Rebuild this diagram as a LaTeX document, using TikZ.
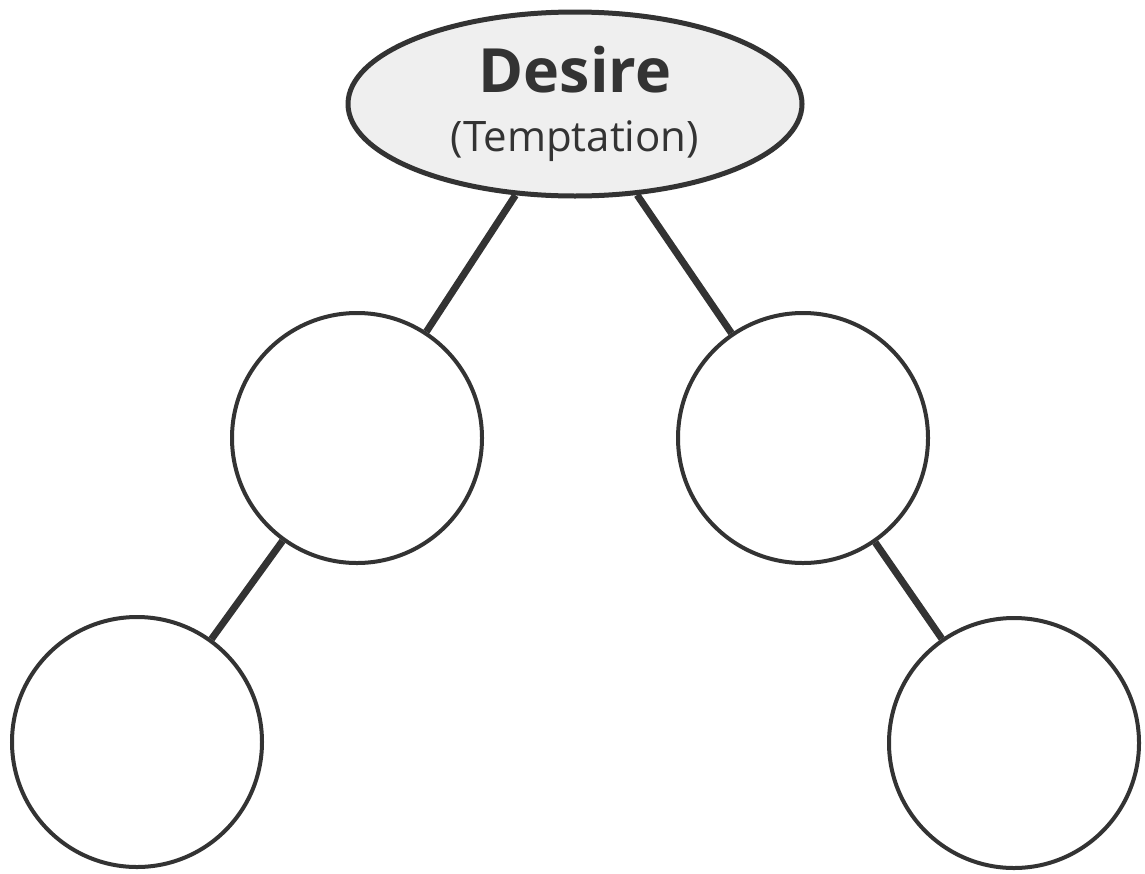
\documentclass[tikz,border=0pt]{standalone}
\usepackage{fontspec}
\setmainfont{Open Sans}
\usetikzlibrary{positioning,shapes}

\definecolor{ink}{HTML}{333333}
\definecolor{cloud}{HTML}{EFEFEF}

\begin{document}
\begin{tikzpicture}[auto]
	\tikzstyle{bubble} = [draw=ink, circle, line width=4pt, minimum size=250pt, inner sep=0pt, fill=white]
	\tikzstyle{link} = [draw=ink, line width=7pt]
	\useasboundingbox[fill=white] (0pt,0pt) rectangle (1145pt,-873pt);

	\node [draw=ink, ellipse, line width=5pt, fill=cloud, minimum width=454pt, minimum height=184pt, inner sep=0pt, align=center, text=ink, font=\fontsize{42}{59}\selectfont] (desire) at (575pt,-104pt) {{\fontsize{61}{59}\selectfont\bfseries Desire}\\(Temptation)};
	\node [bubble, on grid, below left = 334pt and 218pt of desire] (left) {};
	\node [bubble, on grid, below right = 334pt and 228pt of desire] (right) {};
	\node [bubble, on grid, below left = 304pt and 220pt of left] (leftleft) {};
	\node [bubble, on grid, below right = 305pt and 211pt of right] (rightright) {};

	\draw [link] (desire) -- (left);
	\draw [link] (desire) -- (right);
	\draw [link] (left) -- (leftleft);
	\draw [link] (right) -- (rightright);

\end{tikzpicture}
\end{document}
